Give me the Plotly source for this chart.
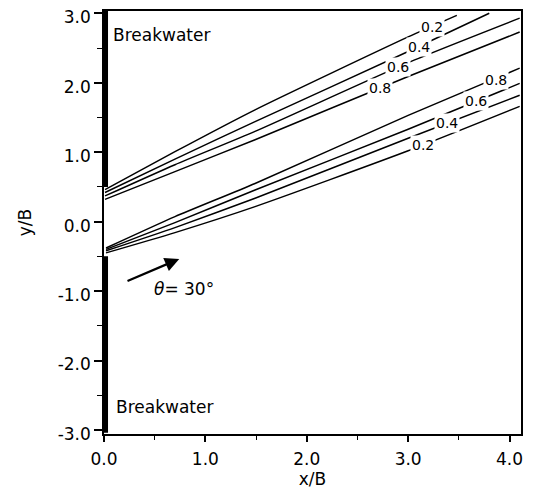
import plotly.graph_objects as go

# ---------------- data ----------------
# upper contour set (labels 0.2, 0.4, 0.6, 0.8 from top to bottom)
up_x_02 = [0.01, 0.70, 1.49, 3.0, 3.48]
up_y_02 = [0.46, 1.007, 1.61, 2.66, 2.97]
up_x_04 = [0.01, 0.70, 1.49, 3.0, 3.80]
up_y_04 = [0.42, 0.90, 1.44, 2.45, 3.00]
up_x_06 = [0.01, 0.70, 1.49, 3.0, 4.10]
up_y_06 = [0.37, 0.82, 1.30, 2.29, 2.93]
up_x_08 = [0.01, 0.70, 1.49, 3.0, 4.10]
up_y_08 = [0.32, 0.72, 1.18, 2.09, 2.73]

# lower contour set (labels 0.8, 0.6, 0.4, 0.2 from top to bottom)
lo_x = [0.02, 0.70, 1.49, 3.0, 4.10]
lo_y_08 = [-0.38, 0.072, 0.55, 1.53, 2.21]
lo_y_06 = [-0.40, -0.014, 0.456, 1.33, 1.99]
lo_y_04 = [-0.42, -0.086, 0.337, 1.20, 1.82]
lo_y_02 = [-0.45, -0.158, 0.216, 1.02, 1.66]

# contour label text and positions
label_text = ["0.2", "0.4", "0.6", "0.8", "0.8", "0.6", "0.4", "0.2"]
label_x = [3.24, 3.11, 2.90, 2.72, 3.87, 3.67, 3.38, 3.15]
label_y = [2.80, 2.51, 2.23, 1.92, 2.04, 1.73, 1.42, 1.10]

# breakwaters
bw_x = [0.015, 0.015, None, 0.015, 0.015]
bw_y = [0.50, 3.04, None, -0.50, -3.04]

# incident wave arrow (tail -> head)
arrow_tail = (0.217, -0.863)
arrow_head = (0.742, -0.537)

x_ticks = [0, 1, 2, 3, 4]
x_ticktext = ["0.0", "1.0", "2.0", "3.0", "4.0"]
y_ticks = [-3, -2, -1, 0, 1, 2, 3]
y_ticktext = ["-3.0", "-2.0", "-1.0", "0.0", "1.0", "2.0", "3.0"]

FONT = "DejaVu Sans"

fig = go.Figure()

lines = [
    (up_x_02, up_y_02), (up_x_04, up_y_04), (up_x_06, up_y_06), (up_x_08, up_y_08),
    (lo_x, lo_y_08), (lo_x, lo_y_06), (lo_x, lo_y_04), (lo_x, lo_y_02),
]
for xs, ys in lines:
    fig.add_trace(go.Scatter(x=xs, y=ys, mode="lines",
                             line=dict(color="black", width=1.5, shape="spline",
                                       smoothing=0.6),
                             showlegend=False, hoverinfo="skip"))

fig.add_trace(go.Scatter(x=bw_x, y=bw_y, mode="lines",
                         line=dict(color="black", width=5),
                         connectgaps=False, cliponaxis=False,
                         showlegend=False, hoverinfo="skip"))

for t, lx, ly in zip(label_text, label_x, label_y):
    fig.add_annotation(x=lx, y=ly, text=t, showarrow=False,
                       font=dict(family=FONT, size=14, color="black"),
                       bgcolor="white", borderpad=1)

fig.add_annotation(x=arrow_head[0], y=arrow_head[1], ax=arrow_tail[0], ay=arrow_tail[1],
                   xref="x", yref="y", axref="x", ayref="y", text="",
                   showarrow=True, arrowhead=2, arrowsize=1.3, arrowwidth=2.2,
                   arrowcolor="black")

fig.add_annotation(x=0.79, y=-0.97, text="<i>θ</i>= 30°", showarrow=False,
                   font=dict(family=FONT, size=17, color="black"))
fig.add_annotation(x=0.563, y=2.685, text="Breakwater", showarrow=False,
                   font=dict(family=FONT, size=17, color="black"))
fig.add_annotation(x=0.60, y=-2.675, text="Breakwater", showarrow=False,
                   font=dict(family=FONT, size=17, color="black"))

fig.update_xaxes(range=[0, 4.113], tickvals=x_ticks, ticktext=x_ticktext,
                 ticks="outside", ticklen=6, tickwidth=1.5, tickcolor="black",
                 minor=dict(dtick=0.5, tick0=0, ticks="outside", ticklen=4,
                            tickwidth=1.2, tickcolor="black"),
                 showgrid=False, zeroline=False, showline=True, linecolor="black",
                 linewidth=1.5, mirror=True, ticklabelstandoff=3,
                 ticklabeloverflow="allow", automargin=False,
                 tickfont=dict(family=FONT, size=17, color="black"),
                 title=dict(text="x/B", font=dict(family=FONT, size=17, color="black"),
                            standoff=0))
fig.update_yaxes(range=[-3.058, 3.033], tickvals=y_ticks, ticktext=y_ticktext,
                 ticks="outside", ticklen=8, tickwidth=1.5, tickcolor="black",
                 minor=dict(dtick=0.5, tick0=0, ticks="outside", ticklen=5,
                            tickwidth=1.2, tickcolor="black"),
                 showgrid=False, zeroline=False, showline=True, linecolor="black",
                 linewidth=1.5, mirror=True, ticklabeloverflow="allow",
                 ticklabelshift=4, automargin=False,
                 tickfont=dict(family=FONT, size=17, color="black"),
                 title=dict(text="y/B", font=dict(family=FONT, size=17, color="black"),
                            standoff=22))

fig.update_layout(width=518, height=485, margin=dict(l=96, r=5, t=3, b=59),
                  plot_bgcolor="white", paper_bgcolor="white",
                  font=dict(family=FONT, color="black"))

fig.write_html("out.html")
